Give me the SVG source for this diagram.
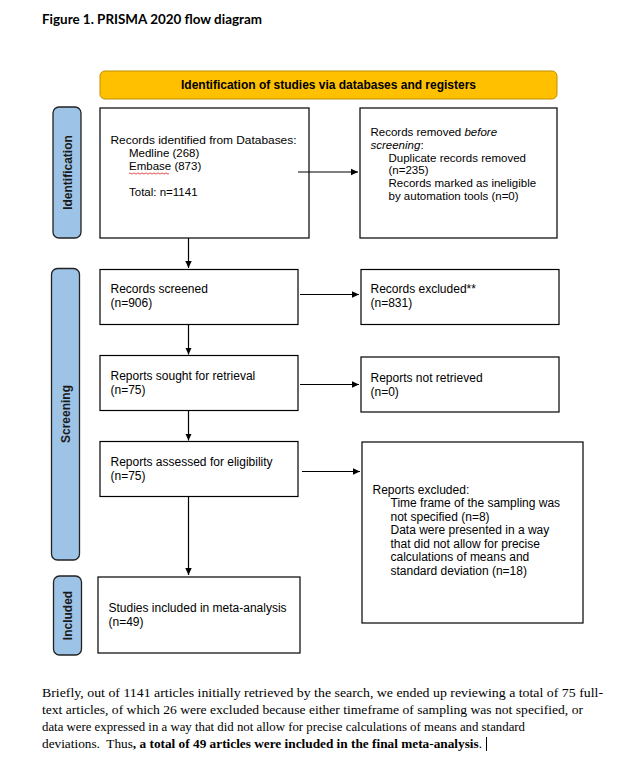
<svg xmlns="http://www.w3.org/2000/svg" width="628" height="768" viewBox="0 0 628 768">
  <defs>
    <marker id="ah" markerWidth="8" markerHeight="8" refX="7" refY="4" orient="auto" markerUnits="userSpaceOnUse">
      <path d="M0,0.8 L7,4 L0,7.2 Z" fill="#000"/>
    </marker>
    <style>
      .box { fill: #fff; stroke: #000; stroke-width: 1.2; }
      .side { fill: #9DC3E6; stroke: #222; stroke-width: 1.3; }
      .t { font-family: "Liberation Sans", Arial, sans-serif; font-size: 12px; fill: #000; }
      .ts { font-family: "Liberation Sans", Arial, sans-serif; font-size: 11.5px; fill: #000; }
      .sl { font-family: "Liberation Sans", Arial, sans-serif; font-size: 12px; font-weight: bold; fill: #1a1a1a; text-anchor: middle; }
      .conn { stroke: #000; stroke-width: 1.2; fill: none; marker-end: url(#ah); }
      .para { font-family: "Liberation Serif", "Times New Roman", serif; font-size: 12.5px; fill: #000; }
    </style>
  </defs>
  <rect width="628" height="768" fill="#fff"/>

  <text x="42" y="24" font-family="Lato, 'Open Sans', sans-serif" font-weight="bold" font-size="13" textLength="220" lengthAdjust="spacingAndGlyphs" fill="#000">Figure 1. PRISMA 2020 flow diagram</text>

  <g id="header">
    <rect x="100" y="71" width="457" height="28" rx="5" fill="#FFC000" stroke="#BF9000" stroke-width="1"/>
    <text x="328.5" y="89" class="t" font-weight="bold" text-anchor="middle" textLength="295" lengthAdjust="spacingAndGlyphs">Identification of studies via databases and registers</text>
  </g>

  <g id="side-identification">
    <rect x="53" y="107" width="28" height="131" rx="6" class="side"/>
    <text class="sl" transform="translate(71.5,172.5) rotate(-90)">Identification</text>
  </g>
  <g id="side-screening">
    <rect x="51.5" y="268.5" width="28" height="291.5" rx="6" class="side"/>
    <text class="sl" transform="translate(70,414) rotate(-90)">Screening</text>
  </g>
  <g id="side-included">
    <rect x="53.5" y="576" width="28" height="79" rx="6" class="side"/>
    <text class="sl" transform="translate(71.5,615.5) rotate(-90)">Included</text>
  </g>

  <g id="records-identified">
    <rect x="100" y="108" width="209" height="130" class="box"/>
    <text class="ts" x="110.5" y="144" textLength="186" lengthAdjust="spacingAndGlyphs">Records identified from Databases:</text>
    <text class="ts" x="129" y="156.8">Medline (268)</text>
    <text class="ts" x="129" y="169.6">Embase (873)</text>
    <path d="M129,173.5 q1,-1.2 2,0 t2,0 t2,0 t2,0 t2,0 t2,0 t2,0 t2,0 t2,0 t2,0 t2,0 t2,0 t2,0 t2,0 t2,0 t2,0 t2,0 t2,0 t2,0 t2,0" fill="none" stroke="#e02020" stroke-width="0.8"/>
    <text class="ts" x="129" y="196">Total:  n=1141</text>
  </g>

  <g id="records-removed">
    <rect x="360" y="108" width="197" height="130" class="box"/>
    <text class="ts" x="370.5" y="136">Records removed <tspan font-style="italic">before</tspan></text>
    <text class="ts" x="370.5" y="148.8"><tspan font-style="italic">screening</tspan>:</text>
    <text class="ts" x="388.5" y="161.6">Duplicate records removed</text>
    <text class="ts" x="388.5" y="174.4">(n=235)</text>
    <text class="ts" x="388.5" y="187.2">Records marked as ineligible</text>
    <text class="ts" x="388.5" y="200">by automation tools (n=0)</text>
  </g>

  <g id="records-screened">
    <rect x="100" y="269.5" width="198" height="55" class="box"/>
    <text class="t" x="110.5" y="293">Records screened</text>
    <text class="t" x="110.5" y="307">(n=906)</text>
  </g>

  <g id="records-excluded">
    <rect x="361" y="269.5" width="198" height="55" class="box"/>
    <text class="t" x="370.5" y="293">Records excluded**</text>
    <text class="t" x="370.5" y="307">(n=831)</text>
  </g>

  <g id="reports-sought">
    <rect x="100" y="355.5" width="198" height="55" class="box"/>
    <text class="t" x="110.5" y="380.3">Reports sought for retrieval</text>
    <text class="t" x="110.5" y="394.3">(n=75)</text>
  </g>

  <g id="reports-not-retrieved">
    <rect x="361" y="357" width="198" height="55" class="box"/>
    <text class="t" x="370.5" y="382">Reports not retrieved</text>
    <text class="t" x="370.5" y="396">(n=0)</text>
  </g>

  <g id="reports-assessed">
    <rect x="100" y="441.5" width="198" height="55" class="box"/>
    <text class="t" x="110.5" y="466">Reports assessed for eligibility</text>
    <text class="t" x="110.5" y="480.3">(n=75)</text>
  </g>

  <g id="reports-excluded">
    <rect x="362" y="442" width="221" height="181" class="box"/>
    <text class="t" x="372.5" y="493.5">Reports excluded:</text>
    <text class="t" x="390.5" y="507">Time frame of the sampling was</text>
    <text class="t" x="390.5" y="520.5">not specified (n=8)</text>
    <text class="t" x="390.5" y="534">Data were presented in a way</text>
    <text class="t" x="390.5" y="547.5">that did not allow for precise</text>
    <text class="t" x="390.5" y="561">calculations of means and</text>
    <text class="t" x="390.5" y="574.5">standard deviation (n=18)</text>
  </g>

  <g id="studies-included">
    <rect x="98" y="577" width="202" height="76" class="box"/>
    <text class="t" x="108.5" y="612.3">Studies included in meta-analysis</text>
    <text class="t" x="108.5" y="625.7">(n=49)</text>
  </g>

  <g id="connectors">
    <line x1="298" y1="172" x2="358" y2="172" class="conn"/>
    <line x1="188.5" y1="238" x2="188.5" y2="268" class="conn"/>
    <line x1="300" y1="294.5" x2="359" y2="294.5" class="conn"/>
    <line x1="188.5" y1="324.5" x2="188.5" y2="354.5" class="conn"/>
    <line x1="300" y1="384.5" x2="359" y2="384.5" class="conn"/>
    <line x1="188.5" y1="410.5" x2="188.5" y2="440.5" class="conn"/>
    <line x1="302" y1="471.5" x2="360" y2="471.5" class="conn"/>
    <line x1="188.5" y1="496.5" x2="188.5" y2="575" class="conn"/>
  </g>

  <g id="caption">
    <text class="para" x="42" y="697" textLength="561" lengthAdjust="spacingAndGlyphs">Briefly, out of 1141 articles initially retrieved by the search, we ended up reviewing a total of 75 full-</text>
    <text class="para" x="42" y="714" textLength="541" lengthAdjust="spacingAndGlyphs">text articles, of which 26 were excluded because either timeframe of sampling was not specified, or</text>
    <text class="para" x="42" y="731" textLength="483" lengthAdjust="spacingAndGlyphs">data were expressed in a way that did not allow for precise calculations of means and standard</text>
    <text class="para" x="42" y="748" textLength="440" lengthAdjust="spacingAndGlyphs" xml:space="preserve">deviations.  Thus<tspan font-weight="bold">, a total of 49 articles were included in the final meta-analysis</tspan>.</text>
    <line x1="486.5" y1="737" x2="486.5" y2="751" stroke="#000" stroke-width="1"/>
  </g>
</svg>
